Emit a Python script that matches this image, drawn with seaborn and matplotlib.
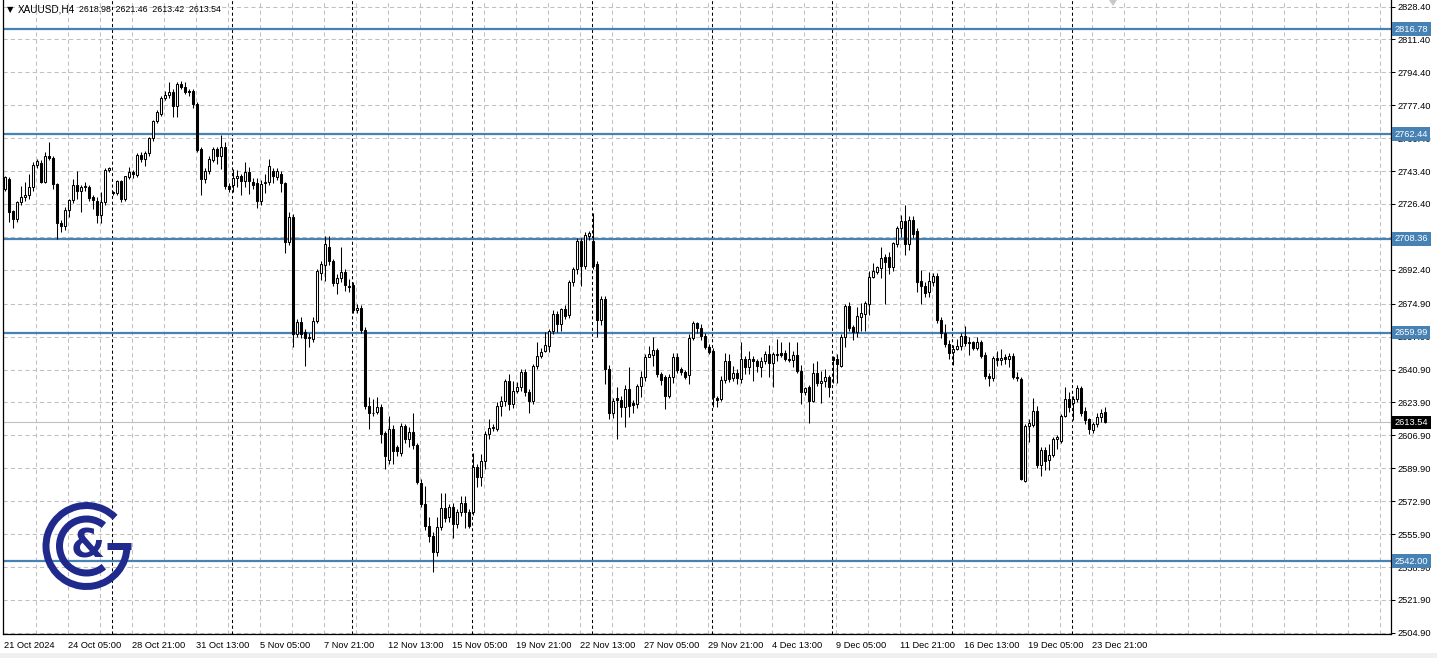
import numpy as np
import pandas as pd
import matplotlib
matplotlib.use("Agg")
import matplotlib.pyplot as plt
import matplotlib.transforms as mtransforms
from matplotlib.patches import Arc, Polygon, Rectangle
import seaborn as sns

# ---------------------------------------------------------------
# Chart data (XAUUSD H4)
# ---------------------------------------------------------------
symbol = "XAUUSD,H4"
last_ohlc = [2618.98, 2621.46, 2613.42, 2613.54]

opens = [
    2734.1, 2739.3, 2722.6, 2718.6, 2727.3, 2729.8, 2731.2, 2735.0, 2746.5, 2747.6,
    2737.9, 2751.4, 2750.2, 2736.7, 2716.4, 2714.9, 2723.3, 2728.5, 2736.2, 2733.0,
    2735.0, 2735.3, 2729.8, 2728.1, 2720.7, 2727.6, 2744.1, 2732.5, 2732.1, 2738.5,
    2729.0, 2740.5, 2743.1, 2741.6, 2751.9, 2749.5, 2752.6, 2760.5, 2769.1, 2772.9,
    2781.2, 2782.7, 2784.3, 2776.9, 2788.4, 2787.0, 2785.0, 2784.6, 2777.9, 2754.8,
    2739.3, 2743.6, 2749.1, 2754.8, 2751.4, 2756.0, 2735.9, 2736.4, 2739.8, 2740.9,
    2738.5, 2742.8, 2737.6, 2737.2, 2727.8, 2737.1, 2737.6, 2743.6, 2740.5, 2741.9,
    2737.2, 2706.9, 2719.5, 2659.2, 2665.2, 2660.1, 2657.0, 2656.6, 2666.1, 2691.0,
    2695.0, 2704.3, 2696.8, 2685.7, 2688.2, 2691.1, 2684.2, 2684.5, 2671.6, 2672.6,
    2661.3, 2622.2, 2618.2, 2619.1, 2621.7, 2607.9, 2594.1, 2610.1, 2600.7, 2597.6,
    2611.9, 2605.0, 2608.8, 2602.0, 2582.2, 2571.7, 2560.2, 2555.0, 2546.4, 2559.7,
    2569.3, 2564.5, 2570.0, 2561.0, 2567.1, 2572.2, 2567.1, 2567.1, 2590.3, 2585.2,
    2593.8, 2607.5, 2610.7, 2610.1, 2622.2, 2624.8, 2635.1, 2623.1, 2630.0, 2631.7,
    2639.4, 2629.1, 2624.8, 2642.9, 2648.0, 2650.3, 2653.2, 2661.0, 2669.6, 2664.4,
    2672.1, 2669.2, 2685.9, 2692.8, 2707.5, 2694.5, 2709.8, 2707.1, 2695.4, 2666.5,
    2677.3, 2641.1, 2618.2, 2626.1, 2625.1, 2621.7, 2630.8, 2623.4, 2623.1, 2632.5,
    2636.8, 2647.5, 2648.6, 2651.0, 2638.6, 2636.8, 2627.4, 2636.8, 2647.5, 2641.1,
    2639.4, 2638.2, 2657.2, 2664.7, 2662.3, 2658.4, 2652.7, 2650.3, 2626.1, 2625.6,
    2635.5, 2645.4, 2636.5, 2638.9, 2636.0, 2646.3, 2642.3, 2646.3, 2645.4, 2642.3,
    2645.4, 2648.9, 2644.1, 2648.9, 2649.2, 2649.2, 2646.3, 2646.0, 2648.6, 2640.3,
    2629.1, 2632.0, 2624.8, 2638.9, 2633.7, 2634.8, 2637.2, 2647.2, 2646.3, 2642.9,
    2657.5, 2673.9, 2662.7, 2660.1, 2668.2, 2669.6, 2674.7, 2688.9, 2691.1, 2693.3,
    2698.9, 2699.2, 2693.7, 2705.7, 2714.0, 2717.8, 2705.7, 2718.1, 2712.6, 2686.5,
    2684.2, 2680.8, 2686.0, 2689.4, 2666.5, 2659.6, 2654.1, 2649.8, 2651.5, 2653.2,
    2658.4, 2654.9, 2654.9, 2652.0, 2654.9, 2648.6, 2637.7, 2636.5, 2646.8, 2645.8,
    2647.2, 2646.3, 2648.0, 2637.2, 2636.0, 2583.1, 2611.8, 2612.2, 2619.3, 2591.7,
    2599.3, 2594.1, 2596.9, 2604.9, 2604.1, 2617.0, 2625.6, 2623.4, 2625.6, 2631.3,
    2619.6, 2615.3, 2609.6, 2612.7, 2616.2, 2618.98,
]
highs = [
    2741.0, 2740.5, 2723.5, 2728.0, 2735.9, 2737.6, 2741.9, 2748.0, 2749.7, 2749.0,
    2753.1, 2758.3, 2751.0, 2737.0, 2718.0, 2725.0, 2729.0, 2739.3, 2743.3, 2736.0,
    2738.0, 2736.0, 2731.0, 2730.0, 2732.4, 2745.0, 2745.7, 2733.0, 2739.0, 2739.0,
    2741.0, 2745.3, 2744.0, 2752.5, 2753.0, 2754.0, 2761.0, 2770.0, 2775.0, 2782.4,
    2784.6, 2789.3, 2786.0, 2789.6, 2789.8, 2789.6, 2786.0, 2785.8, 2779.0, 2756.0,
    2745.0, 2751.0, 2756.0, 2756.0, 2762.2, 2758.3, 2737.0, 2744.5, 2744.0, 2742.0,
    2747.9, 2745.3, 2740.0, 2740.0, 2739.0, 2741.9, 2749.7, 2745.0, 2745.0, 2743.6,
    2738.0, 2722.1, 2721.0, 2667.0, 2667.8, 2662.0, 2660.0, 2668.0, 2693.0, 2697.0,
    2709.7, 2709.7, 2698.0, 2690.0, 2704.0, 2693.0, 2687.6, 2686.0, 2674.7, 2674.0,
    2663.0, 2626.5, 2625.6, 2626.8, 2623.0, 2609.0, 2617.0, 2612.4, 2602.0, 2613.5,
    2613.0, 2611.3, 2618.2, 2603.0, 2584.3, 2580.8, 2564.8, 2557.0, 2564.8, 2576.9,
    2576.9, 2571.7, 2572.0, 2569.0, 2575.7, 2575.7, 2569.0, 2597.6, 2592.0, 2597.2,
    2609.0, 2615.3, 2613.0, 2623.9, 2627.0, 2636.0, 2638.6, 2635.1, 2634.3, 2641.1,
    2641.0, 2631.0, 2644.0, 2654.9, 2652.0, 2660.1, 2662.0, 2671.6, 2671.0, 2672.7,
    2674.0, 2687.0, 2694.0, 2709.0, 2709.0, 2712.0, 2712.5, 2722.0, 2697.0, 2679.0,
    2679.0, 2643.0, 2626.0, 2631.7, 2627.0, 2633.1, 2642.0, 2625.0, 2633.4, 2640.3,
    2648.9, 2653.2, 2657.5, 2652.0, 2639.4, 2638.0, 2638.6, 2649.2, 2649.2, 2642.0,
    2640.5, 2659.2, 2666.1, 2665.6, 2664.4, 2660.0, 2654.0, 2652.0, 2627.0, 2637.7,
    2649.2, 2648.9, 2642.9, 2641.0, 2654.9, 2648.0, 2650.6, 2648.0, 2646.3, 2647.5,
    2650.6, 2653.7, 2650.0, 2656.6, 2654.9, 2651.0, 2654.9, 2650.6, 2654.9, 2643.4,
    2632.0, 2633.0, 2644.1, 2645.1, 2640.3, 2641.1, 2638.0, 2648.0, 2648.9, 2659.0,
    2674.7, 2675.6, 2664.0, 2673.0, 2675.1, 2676.5, 2692.0, 2695.7, 2694.5, 2704.4,
    2700.6, 2701.4, 2707.0, 2715.0, 2720.9, 2726.1, 2720.4, 2720.4, 2714.0, 2692.3,
    2686.0, 2691.1, 2690.6, 2690.5, 2668.0, 2664.4, 2656.0, 2653.7, 2656.6, 2660.0,
    2663.5, 2657.5, 2655.8, 2657.9, 2656.1, 2650.0, 2639.0, 2648.0, 2650.6, 2651.5,
    2648.9, 2649.2, 2649.5, 2639.4, 2637.0, 2613.0, 2615.3, 2626.1, 2622.2, 2601.0,
    2600.7, 2602.4, 2606.0, 2607.2, 2618.0, 2631.7, 2629.1, 2627.0, 2633.0, 2632.5,
    2621.3, 2616.0, 2614.0, 2618.7, 2620.5, 2621.46,
]
lows = [
    2733.0, 2716.9, 2714.0, 2717.0, 2726.0, 2728.0, 2729.0, 2733.0, 2745.0, 2737.0,
    2737.0, 2749.0, 2734.0, 2708.3, 2712.0, 2713.0, 2719.5, 2727.0, 2729.0, 2722.1,
    2733.0, 2728.0, 2723.8, 2716.4, 2716.4, 2726.0, 2743.0, 2731.0, 2731.0, 2727.3,
    2728.0, 2739.3, 2740.0, 2740.2, 2748.0, 2746.2, 2751.0, 2759.0, 2768.0, 2772.0,
    2780.0, 2781.2, 2771.2, 2771.2, 2786.0, 2783.0, 2782.0, 2776.0, 2753.0, 2731.2,
    2737.0, 2742.0, 2748.0, 2747.1, 2744.5, 2734.0, 2732.4, 2732.4, 2735.0, 2731.2,
    2735.0, 2731.6, 2734.0, 2724.3, 2726.0, 2731.9, 2736.0, 2737.0, 2739.0, 2732.4,
    2700.9, 2705.0, 2652.3, 2657.5, 2657.0, 2642.8, 2652.7, 2655.0, 2665.0, 2687.1,
    2686.8, 2695.0, 2684.0, 2679.9, 2686.0, 2681.6, 2681.0, 2670.0, 2670.0, 2660.0,
    2620.5, 2610.1, 2617.0, 2618.0, 2603.2, 2589.5, 2592.0, 2592.0, 2596.0, 2596.0,
    2603.0, 2601.0, 2600.0, 2581.7, 2570.0, 2558.0, 2551.6, 2536.1, 2544.7, 2558.0,
    2562.0, 2562.0, 2553.8, 2559.0, 2565.0, 2559.3, 2559.0, 2566.0, 2580.0, 2580.8,
    2589.5, 2605.0, 2609.0, 2609.0, 2617.0, 2622.0, 2620.0, 2621.0, 2629.0, 2630.0,
    2627.0, 2618.2, 2623.0, 2641.0, 2646.8, 2649.8, 2649.8, 2659.0, 2660.1, 2661.0,
    2667.0, 2667.5, 2684.0, 2690.2, 2684.2, 2693.0, 2708.0, 2693.0, 2657.5, 2664.0,
    2633.4, 2615.3, 2616.0, 2605.0, 2616.2, 2611.0, 2616.2, 2618.7, 2621.0, 2626.5,
    2635.0, 2647.2, 2642.9, 2637.0, 2633.0, 2620.5, 2626.0, 2633.7, 2639.0, 2638.0,
    2636.0, 2633.4, 2656.0, 2660.0, 2656.0, 2651.5, 2648.9, 2621.3, 2621.7, 2624.8,
    2634.0, 2634.2, 2635.1, 2633.4, 2634.0, 2638.6, 2638.6, 2634.8, 2639.4, 2637.2,
    2643.7, 2636.8, 2631.7, 2645.4, 2647.2, 2645.1, 2644.6, 2642.0, 2639.0, 2623.1,
    2627.9, 2613.1, 2623.9, 2632.5, 2623.4, 2631.7, 2626.8, 2634.0, 2633.7, 2642.3,
    2652.7, 2661.0, 2656.1, 2657.5, 2661.0, 2660.6, 2669.2, 2688.0, 2690.2, 2688.2,
    2674.7, 2690.2, 2692.0, 2704.4, 2709.2, 2700.2, 2702.6, 2709.0, 2680.8, 2674.7,
    2678.5, 2678.2, 2684.0, 2665.0, 2657.2, 2652.3, 2646.3, 2643.4, 2651.0, 2651.0,
    2653.0, 2648.6, 2651.0, 2651.0, 2647.0, 2636.0, 2632.5, 2635.0, 2642.9, 2643.4,
    2644.0, 2642.0, 2636.0, 2635.0, 2583.8, 2582.6, 2603.7, 2611.3, 2590.0, 2586.0,
    2588.9, 2588.9, 2595.5, 2599.8, 2603.0, 2616.2, 2619.0, 2614.8, 2624.0, 2617.0,
    2613.0, 2607.5, 2607.9, 2611.0, 2614.0, 2613.42,
]
closes = [
    2740.2, 2722.1, 2718.6, 2727.3, 2730.2, 2731.2, 2735.0, 2746.5, 2748.8, 2737.9,
    2751.4, 2750.2, 2736.7, 2716.4, 2714.9, 2723.3, 2728.5, 2736.2, 2733.0, 2735.3,
    2735.8, 2729.5, 2728.5, 2720.7, 2727.6, 2744.1, 2745.0, 2732.0, 2738.5, 2729.0,
    2740.7, 2743.1, 2741.9, 2751.9, 2749.5, 2752.6, 2760.5, 2769.1, 2773.8, 2781.2,
    2782.7, 2784.3, 2776.9, 2788.4, 2787.0, 2784.1, 2784.5, 2777.9, 2754.5, 2739.3,
    2743.6, 2749.6, 2754.8, 2751.4, 2756.0, 2735.5, 2734.1, 2739.8, 2740.9, 2738.5,
    2742.8, 2738.1, 2736.4, 2727.8, 2736.7, 2737.9, 2745.9, 2741.0, 2743.6, 2737.2,
    2706.9, 2719.5, 2659.2, 2665.2, 2659.2, 2657.0, 2657.5, 2666.1, 2691.9, 2695.4,
    2705.7, 2696.8, 2685.7, 2688.2, 2691.1, 2684.7, 2683.3, 2671.6, 2672.6, 2661.3,
    2622.2, 2618.2, 2618.5, 2621.7, 2607.5, 2596.4, 2610.1, 2599.0, 2598.6, 2611.9,
    2605.0, 2608.8, 2602.0, 2582.6, 2571.7, 2560.2, 2555.0, 2546.4, 2559.7, 2569.3,
    2564.1, 2570.0, 2561.0, 2567.1, 2572.2, 2567.1, 2560.2, 2590.3, 2585.2, 2593.8,
    2607.5, 2610.7, 2611.3, 2622.2, 2624.8, 2635.1, 2623.1, 2630.0, 2631.7, 2639.4,
    2629.1, 2624.8, 2642.9, 2648.0, 2649.8, 2653.7, 2661.0, 2669.6, 2664.4, 2672.1,
    2668.7, 2685.9, 2692.8, 2707.5, 2694.5, 2710.6, 2711.3, 2694.5, 2666.5, 2677.3,
    2641.1, 2618.2, 2624.8, 2625.1, 2621.7, 2630.8, 2622.2, 2622.7, 2632.5, 2636.8,
    2647.5, 2648.9, 2651.0, 2638.6, 2635.5, 2627.4, 2636.8, 2647.5, 2640.6, 2639.4,
    2637.2, 2657.2, 2664.7, 2662.3, 2658.4, 2652.7, 2649.8, 2626.5, 2625.1, 2635.5,
    2645.1, 2636.0, 2638.9, 2636.5, 2646.3, 2642.0, 2646.3, 2645.4, 2642.9, 2645.4,
    2648.9, 2644.1, 2648.9, 2648.6, 2648.6, 2646.3, 2646.0, 2648.6, 2640.0, 2629.1,
    2631.3, 2624.8, 2638.9, 2633.7, 2635.1, 2637.2, 2631.7, 2645.8, 2643.7, 2657.5,
    2673.9, 2662.3, 2660.1, 2668.7, 2669.9, 2675.1, 2688.9, 2692.0, 2693.7, 2698.5,
    2696.3, 2694.0, 2706.1, 2714.0, 2717.8, 2705.7, 2718.1, 2710.9, 2685.9, 2684.2,
    2680.2, 2686.5, 2689.4, 2666.5, 2659.6, 2654.1, 2649.2, 2651.5, 2653.2, 2658.4,
    2654.4, 2654.4, 2652.0, 2654.9, 2648.0, 2637.7, 2636.5, 2646.8, 2645.8, 2646.8,
    2646.3, 2648.0, 2637.2, 2636.5, 2584.3, 2611.8, 2613.1, 2619.3, 2591.7, 2599.3,
    2593.8, 2596.9, 2605.0, 2605.9, 2617.0, 2625.6, 2621.3, 2625.6, 2631.3, 2618.7,
    2614.8, 2610.1, 2612.7, 2616.5, 2618.7, 2613.54,
]

levels = [2816.78, 2762.44, 2708.36, 2659.99, 2542.00]
price_ticks = [2828.40, 2811.40, 2794.40, 2777.40, 2760.40, 2743.40, 2726.40,
               2709.40, 2692.40, 2674.90, 2657.90, 2640.90, 2623.90, 2606.90,
               2589.90, 2572.90, 2555.90, 2538.90, 2521.90, 2504.90]
time_labels = ["21 Oct 2024", "24 Oct 05:00", "28 Oct 21:00", "31 Oct 13:00",
               "5 Nov 05:00", "7 Nov 21:00", "12 Nov 13:00", "15 Nov 05:00",
               "19 Nov 21:00", "22 Nov 13:00", "27 Nov 05:00", "29 Nov 21:00",
               "4 Dec 13:00", "9 Dec 05:00", "11 Dec 21:00", "16 Dec 13:00",
               "19 Dec 05:00", "23 Dec 21:00"]
week_starts = [27, 57, 87, 117, 147, 177, 207, 237, 267]  # bar index of Monday open

# ---------------------------------------------------------------
sns.set_style("white")
plt.rcParams["font.family"] = ["Liberation Sans", "DejaVu Sans"]

W, H, DPI = 1437, 658, 100
fig = plt.figure(figsize=(W / DPI, H / DPI), dpi=DPI)
fig.patch.set_facecolor("white")
ax = fig.add_axes([3 / W, 24 / H, 1388 / W, 634 / H])
ax.set_facecolor("white")

df = pd.DataFrame({"open": opens, "high": highs, "low": lows, "close": closes})
df["bar"] = np.arange(len(df))
df["up"] = df["close"] >= df["open"]
df["body_lo"] = df[["open", "close"]].min(axis=1)
df["body_h"] = (df["close"] - df["open"]).abs()

ax.set_xlim(-0.5, 346.5)
ax.set_ylim(2504.3, 2831.76)

grid_kw = dict(color="#c0c0c0", lw=0.75, dashes=(4, 3), zorder=1)
for p in price_ticks:
    ax.axhline(p, **grid_kw)
for gx in np.arange(8, 347, 8) - 0.25:
    ax.axvline(gx, **grid_kw)
for w in week_starts:
    ax.axvline(w - 0.25, color="black", lw=0.75, dashes=(3, 2.5), zorder=2)

# support / resistance levels
for lv in levels:
    ax.axhline(lv, color="#4682b4", lw=1.6, zorder=2.5)
ax.axhline(last_ohlc[3], color="#c0c0c0", lw=0.8, zorder=2.4)

# candles
ax.vlines(df["bar"], df["low"], df["high"], color="black", lw=0.75, zorder=3)
up = df[df["up"]]
dn = df[~df["up"]]
ax.bar(up["bar"], up["body_h"].clip(lower=0.05), bottom=up["body_lo"], width=0.5,
       color="white", edgecolor="black", linewidth=0.75, zorder=4)
ax.bar(dn["bar"], dn["body_h"].clip(lower=0.05), bottom=dn["body_lo"], width=0.5,
       color="black", edgecolor="black", linewidth=0.75, zorder=4)

# axes cosmetics
ax.spines["top"].set_visible(False)
for s in ["left", "right", "bottom"]:
    ax.spines[s].set_color("black")
    ax.spines[s].set_linewidth(0.9)

ax.yaxis.tick_right()
ax.set_yticks(price_ticks)
ax.set_yticklabels([f"{p:.2f}" for p in price_ticks])
ax.tick_params(axis="y", which="both", length=3, width=0.75, pad=1.5,
               labelsize=6.7, colors="black", right=True, left=False)
ax.set_xticks(np.arange(len(time_labels)) * 16 - 0.25)
ax.set_xticklabels(time_labels)
ax.tick_params(axis="x", length=3, width=0.75, pad=2, labelsize=6.7, colors="black")
for lbl in ax.get_xticklabels():
    lbl.set_horizontalalignment("left")
ax.grid(False)

# price tags on the right scale
trans = mtransforms.blended_transform_factory(ax.transAxes, ax.transData)
for lv in levels:
    ax.text(1.0027, lv, f"{lv:.2f}", transform=trans, ha="left", va="center",
            fontsize=6.7, color="white", clip_on=False, zorder=10,
            bbox=dict(boxstyle="square,pad=0.25", fc="#4682b4", ec="none"))
ax.text(1.0027, last_ohlc[3], f"{last_ohlc[3]:.2f}", transform=trans, ha="left",
        va="center", fontsize=6.7, color="white", clip_on=False, zorder=10,
        bbox=dict(boxstyle="square,pad=0.25", fc="black", ec="none"))

# header: symbol + last bar OHLC
fig.text(7 / W, 1 - 10 / H, "\u25bc", ha="left", va="center", fontsize=6,
         color="black", family="DejaVu Sans")
fig.text(18 / W, 1 - 10 / H, symbol, ha="left", va="center", fontsize=7.2,
         color="black")
fig.text(79 / W, 1 - 10 / H, "  ".join(f"{v:.2f}" for v in last_ohlc),
         ha="left", va="center", fontsize=6.3, color="black")

# chart-shift marker and bottom status strip
fig.patches.append(Polygon([[1109 / W, 1.0], [1117 / W, 1.0], [1113 / W, 1 - 6 / H]],
                           closed=True, transform=fig.transFigure,
                           fc="#c8c8c8", ec="none"))
fig.patches.append(Rectangle((0, 0), 1, 5 / H, transform=fig.transFigure,
                             fc="#f0f0f0", ec="none"))

# logo
lax = fig.add_axes([36.5 / W, (658 - 596) / H, 100 / W, 100 / H])
lax.set_xlim(-50, 50)
lax.set_ylim(-50, 50)
lax.set_aspect("equal")
lax.axis("off")
navy = "#1f2a8c"
lw_logo = 7 * 72 / DPI
lax.add_patch(Arc((0, 0), 81, 81, theta1=45, theta2=360, lw=lw_logo, color=navy))
lax.add_patch(Arc((0, 0), 54, 54, theta1=50, theta2=310, lw=lw_logo, color=navy))
lax.plot([20, 44], [0, 0], color=navy, lw=lw_logo, solid_capstyle="butt")
lax.text(1, 0, "&", ha="center", va="center", fontsize=28, fontweight="bold",
         color=navy, family="DejaVu Sans")

fig.savefig("out.png", dpi=DPI)
